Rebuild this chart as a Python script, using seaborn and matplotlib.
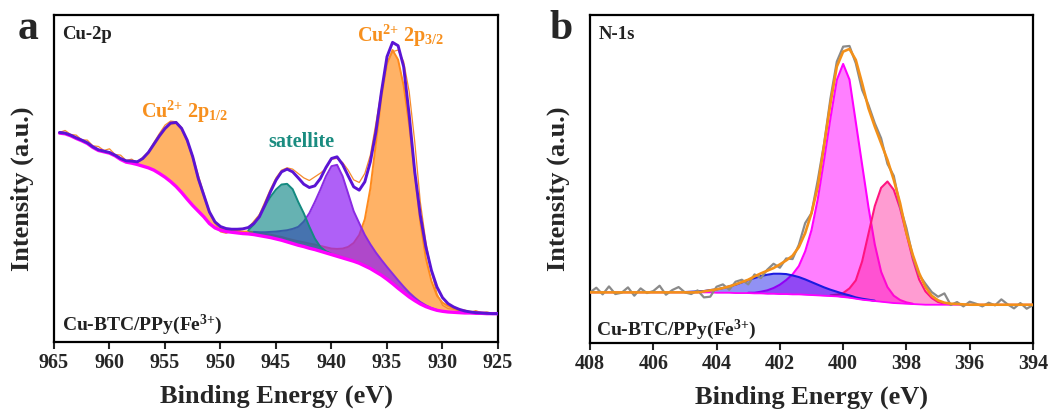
import numpy as np
import matplotlib
matplotlib.use("Agg")
import matplotlib.pyplot as plt
import seaborn as sns

# ---------------- Panel a : Cu-2p (energy grid 964.5 -> 925.0, step 0.5 eV) -------------
a_start, a_step, a_n = 964.5, 0.5, 80
a_background = [62.6, 62.4, 61.8, 61.0, 60.3, 59.5, 58.3, 57.4, 57.0, 56.6,
                55.8, 54.7, 53.9, 53.6, 53.2, 52.7, 52.2, 51.5, 50.5, 49.4,
                48.1, 46.6, 44.8, 42.8, 40.9, 39.2, 37.5, 35.5, 34.2, 33.5,
                33.1, 32.9, 32.7, 32.5, 32.4, 32.2, 31.9, 31.6, 31.3, 30.9,
                30.5, 30.0, 29.5, 29.0, 28.6, 28.1, 27.7, 27.2, 26.7, 26.2,
                25.7, 25.2, 24.7, 24.2, 23.6, 22.8, 22.0, 21.0, 20.0, 18.8,
                17.5, 16.1, 14.8, 13.5, 12.4, 11.4, 10.6, 10.0, 9.5, 9.2,
                9.0, 8.9, 8.8, 8.7, 8.7, 8.6, 8.6, 8.5, 8.5, 8.5]
a_envelope = [62.8, 62.6, 62.0, 61.2, 60.5, 59.7, 58.5, 57.6, 57.2, 56.8,
              56.0, 55.0, 54.3, 54.2, 54.0, 55.0, 56.8, 59.3, 61.8, 64.0,
              65.6, 65.8, 64.0, 60.5, 55.5, 49.0, 44.0, 39.0, 36.0, 34.6,
              34.0, 33.8, 33.8, 33.9, 34.3, 35.5, 37.5, 41.0, 45.0, 48.5,
              51.0, 51.8, 51.0, 49.2, 47.3, 46.3, 46.8, 49.0, 52.3, 55.0,
              55.5, 53.2, 49.8, 46.5, 45.5, 48.0, 54.0, 63.0, 75.0, 85.5,
              89.8, 88.8, 82.5, 68.0, 51.0, 38.0, 28.5, 21.5, 16.5, 13.3,
              11.5, 10.5, 9.8, 9.3, 9.0, 8.8, 8.7, 8.6, 8.5, 8.5]
a_raw = [62.8, 63.4, 62.2, 62.0, 60.6, 60.5, 58.8, 58.6, 57.4, 57.9,
         56.2, 56.0, 54.4, 54.8, 53.6, 55.4, 57.0, 59.8, 62.5, 65.0,
         66.2, 66.0, 64.3, 60.2, 55.8, 50.0, 44.5, 39.2, 35.6, 33.0,
         32.6, 33.2, 33.0, 34.0, 34.2, 36.2, 38.2, 42.0, 45.8, 49.2,
         51.5, 52.2, 51.8, 50.5, 49.2, 48.4, 49.5, 50.6, 52.0, 54.8,
         55.0, 53.8, 51.5, 48.6, 47.8, 50.5, 56.0, 65.5, 75.5, 83.5,
         87.0, 87.5, 84.0, 75.0, 60.0, 42.0, 30.0, 21.0, 14.5, 11.0,
         10.0, 9.8, 9.3, 9.6, 8.9, 9.4, 8.8, 9.0, 8.6, 8.8]
# fitted components: first energy of each and heights above the background
p12_from = 958.5
p12_height = [0.3, 0.5, 0.8, 2.2, 4.4, 7.5, 11.0, 14.3, 17.2, 19.0, 19.0,
              17.4, 14.3, 9.5, 6.2, 3.3, 1.6, 0.8, 0.4, 0.2, 0.1]
teal_from = 947.5
teal_height = [1.0, 3.0, 6.0, 9.2, 12.2, 14.8, 16.7, 17.4, 16.3, 13.0, 10.0,
               6.5, 3.3, 1.3, 0.5, 0.2]
violet_from = 947.0
violet_height = [0.8, 1.0, 1.3, 1.7, 2.2, 2.8, 3.5, 4.4, 5.5, 7.5, 10.5, 14.3,
                 18.5, 23.0, 26.5, 27.4, 24.5, 19.8, 15.0, 12.0, 9.3, 7.3, 5.8,
                 4.6, 3.7, 3.0, 2.4, 1.8, 1.3, 0.9, 0.6, 0.4, 0.2, 0.1]
p32_from = 950.0
p32_height = [0.4, 0.5, 0.5, 0.6, 0.6, 0.7, 0.7, 0.8, 0.8, 0.9, 0.9, 1.0, 1.0,
              1.1, 1.2, 1.3, 1.4, 1.5, 1.6, 1.7, 1.8, 2.2, 2.8, 3.8, 5.5, 8.5,
              14.0, 24.0, 38.5, 53.5, 64.5, 70.0, 68.5, 62.0, 51.5, 38.0, 24.5,
              14.5, 8.3, 4.4, 2.6, 1.8, 1.2, 0.8, 0.6, 0.4, 0.3, 0.2, 0.1, 0.1,
              0.0]
a_xticks = [965, 960, 955, 950, 945, 940, 935, 930, 925]

# ---------------- Panel b : N-1s (energy grid 408.0 -> 394.0, step 0.2 eV) --------------
b_start, b_step, b_n = 408.0, 0.2, 71
b_background = ([15.2] * 19 +
                [15.2, 15.1, 15.1, 15.1, 15.0, 15.0, 15.0, 14.9, 14.9, 14.8,
                 14.8, 14.7, 14.7, 14.6, 14.6, 14.5, 14.4, 14.3, 14.2, 14.1,
                 14.0, 13.8, 13.6, 13.3, 13.0, 12.8, 12.6, 12.4, 12.2, 12.0,
                 11.9, 11.8, 11.7, 11.6, 11.5] +
                [11.5] * 17)
b_envelope = ([15.2] * 18 +
              [15.5, 15.8, 16.1, 16.5, 17.0, 17.6, 18.3, 19.0, 20.0, 20.9,
               21.7, 22.5, 23.6, 24.8, 26.2, 28.8, 33.0, 39.0, 47.0, 59.5,
               72.0, 83.0, 87.5, 88.3, 85.0, 78.0, 70.5, 65.0, 60.0, 55.0,
               49.0, 42.0, 33.0, 26.5, 21.0, 16.8, 14.2, 12.8, 12.1, 11.8,
               11.7, 11.6] +
              [11.5] * 11)
b_raw = [15.2, 16.6, 14.6, 17.0, 14.7, 15.1, 16.7, 14.2, 16.4, 15.0,
         15.6, 17.2, 14.5, 15.9, 16.8, 15.2, 14.7, 15.8, 13.7, 13.9,
         16.9, 17.6, 16.0, 18.4, 19.0, 17.6, 20.6, 19.5, 22.0, 23.8,
         22.6, 25.4, 25.2, 29.5, 36.0, 39.0, 49.0, 60.0, 73.5, 84.5,
         89.0, 89.2, 84.0, 76.0, 71.5, 66.0, 61.5, 53.8, 50.2, 41.0,
         34.5, 26.0, 20.5, 17.8, 15.3, 13.9, 14.9, 11.4, 12.3, 11.0,
         12.4, 11.8, 11.0, 12.1, 11.3, 13.1, 11.6, 10.4, 12.0, 10.3, 11.4]
blue_from = 405.0
blue_height = [0.1, 0.2, 0.3, 0.4, 0.7, 1.0, 1.4, 1.9, 2.5, 3.2, 3.9, 4.6, 5.2,
               5.7, 6.0, 6.1, 6.0, 5.7, 5.2, 4.6, 3.9, 3.2, 2.5, 1.9, 1.4, 1.0,
               0.7, 0.4, 0.3, 0.2, 0.1]
mag_from = 403.0
mag_height = [0.1, 0.2, 0.5, 1.0, 1.7, 2.8, 4.2, 6.0, 8.5, 13.0, 19.5, 29.0,
              41.0, 53.5, 65.0, 70.0, 65.5, 53.0, 40.5, 28.0, 17.0, 9.0, 4.6,
              2.2, 1.0, 0.4, 0.1]
pink_from = 400.4
pink_height = [0.2, 0.5, 1.2, 2.8, 5.5, 11.5, 20.0, 28.5, 34.2, 36.3, 34.0,
               28.5, 21.0, 13.5, 7.5, 4.0, 2.0, 0.8, 0.3, 0.1]
b_xticks = [408, 406, 404, 402, 400, 398, 396, 394]

# ---------------------------------------------------------------------------------------
sns.set_theme(style="ticks")
serif = ["Liberation Serif", "DejaVu Serif"]
plt.rcParams.update({
    "font.family": serif,
    "font.weight": "bold",
    "axes.labelweight": "bold",
    "mathtext.fontset": "custom",
    "mathtext.rm": "Liberation Serif:bold",
    "mathtext.it": "Liberation Serif:italic:bold",
    "mathtext.bf": "Liberation Serif:bold",
    "axes.linewidth": 1.6,
    "axes.edgecolor": "black",
})


def grid(start, step, n):
    return np.round(start - step * np.arange(n), 2)


def place(E, start, heights):
    i0 = int(np.argmin(np.abs(E - start)))
    full = np.zeros(len(E))
    full[i0:i0 + len(heights)] = heights
    return full, slice(i0, i0 + len(heights))


def line(ax, x, y, color, lw, z):
    sns.lineplot(x=x, y=y, ax=ax, color=color, linewidth=lw, sort=False,
                 errorbar=None, zorder=z)


fig = plt.figure(figsize=(10.54, 4.12), dpi=100)
axa = fig.add_axes([54 / 1054, 1 - 342 / 412, 444 / 1054, 327 / 412])
axb = fig.add_axes([590 / 1054, 1 - 343 / 412, 443 / 1054, 328 / 412])

# ---- panel a ----
Ea = grid(a_start, a_step, a_n)
bga = np.array(a_background)
assert len(a_background) == a_n and len(a_envelope) == a_n and len(a_raw) == a_n
orange_fill = (1.0, 0.5, 0.0)
violet_fill = (0.557, 0.11, 0.96)
teal_fill = (0.0, 0.5, 0.5)
comps_a = [
    (p12_from, p12_height, orange_fill, 0.6, "#ff8a1c", 2),
    (p32_from, p32_height, orange_fill, 0.6, "#ff8a1c", 2),
    (violet_from, violet_height, violet_fill, 0.7, "#8a2be2", 3),
    (teal_from, teal_height, teal_fill, 0.6, "#148a80", 4),
]
for start, h, fc, al, lc, z in comps_a:
    full, sl = place(Ea, start, h)
    axa.fill_between(Ea[sl], bga[sl], bga[sl] + full[sl], color=fc, alpha=al,
                     linewidth=0, zorder=z)
    line(axa, Ea[sl], bga[sl] + full[sl], lc, 1.4, z + 0.5)
line(axa, Ea, np.array(a_raw), "#f58b2c", 0.9, 5)
line(axa, Ea, bga, "#ff00ff", 2.4, 6)
line(axa, Ea, np.array(a_envelope), "#5a14d4", 2.1, 7)

axa.set_xlim(965, 925)
axa.set_ylim(0, 98)
axa.set_xticks(a_xticks)
axa.set_xticklabels([str(t) for t in a_xticks])

axa.text(937.7, 90.0, r"Cu$^{\mathrm{2{+}}}$ 2p$_{\mathrm{3/2}}$", color="#f7901e",
         fontsize=14.5, fontweight="bold", ha="left", va="baseline")
axa.text(957.2, 67.3, r"Cu$^{\mathrm{2{+}}}$ 2p$_{\mathrm{1/2}}$", color="#f7901e",
         fontsize=14.5, fontweight="bold", ha="left", va="baseline")
axa.text(945.7, 58.3, "satellite", color="#1a8c80", fontsize=14.5,
         fontweight="bold", ha="left", va="baseline")
axa.text(964.3, 90.7, "Cu-2p", color="#222222", fontsize=13.5,
         fontweight="bold", ha="left", va="baseline")
axa.text(964.3, 3.5, r"Cu-BTC/PPy(Fe$^{\mathrm{3{+}}}$)", color="#222222",
         fontsize=14, fontweight="bold", ha="left", va="baseline")

# ---- panel b ----
Eb = grid(b_start, b_step, b_n)
bgb = np.array(b_background)
assert len(b_background) == b_n and len(b_envelope) == b_n and len(b_raw) == b_n
comps_b = [
    (mag_from, mag_height, (1.0, 0.0, 1.0), 0.5, "#ff00ff", 2),
    (pink_from, pink_height, (1.0, 0.08, 0.58), 0.42, "#ff1480", 3),
    (blue_from, blue_height, (0.0, 0.0, 0.9), 0.43, "#1a1ae0", 4),
]
for start, h, fc, al, lc, z in comps_b:
    full, sl = place(Eb, start, h)
    axb.fill_between(Eb[sl], bgb[sl], bgb[sl] + full[sl], color=fc, alpha=al,
                     linewidth=0, zorder=z)
    line(axb, Eb[sl], bgb[sl] + full[sl], lc, 1.5, z + 0.5)
line(axb, Eb, bgb, "#ff00ff", 1.3, 5)
line(axb, Eb, np.array(b_raw), "#8a8a8a", 1.6, 6)
line(axb, Eb, np.array(b_envelope), "#f39019", 1.9, 7)

axb.set_xlim(408, 394)
axb.set_ylim(0, 98.5)
axb.set_xticks(b_xticks)
axb.set_xticklabels([str(t) for t in b_xticks])
axb.text(407.74, 91.3, "N-1s", color="#222222", fontsize=13.5,
         fontweight="bold", ha="left", va="baseline")
axb.text(407.8, 2.5, r"Cu-BTC/PPy(Fe$^{\mathrm{3{+}}}$)", color="#222222",
         fontsize=14, fontweight="bold", ha="left", va="baseline")

for ax in (axa, axb):
    ax.set_yticks([])
    for s in ax.spines.values():
        s.set_visible(True)
        s.set_linewidth(1.6)
    ax.tick_params(axis="x", direction="out", length=5, width=1.5,
                   labelsize=14.5, pad=3)
    for lab in ax.get_xticklabels():
        lab.set_fontweight("bold")
    ax.set_xlabel("Binding Energy (eV)", fontsize=19, fontweight="bold")
    ax.set_ylabel("Intensity (a.u.)", fontsize=19, fontweight="bold")
    ax.xaxis.set_label_coords(0.5, -0.13)
    ax.yaxis.set_label_coords(-0.045, 0.47)

fig.text(28 / 1054, 1 - 29 / 412, "a", fontsize=30, fontweight="bold",
         ha="center", va="center")
fig.text(561 / 1054, 1 - 29 / 412, "b", fontsize=30, fontweight="bold",
         ha="center", va="center")

fig.savefig("out.png", dpi=100)
